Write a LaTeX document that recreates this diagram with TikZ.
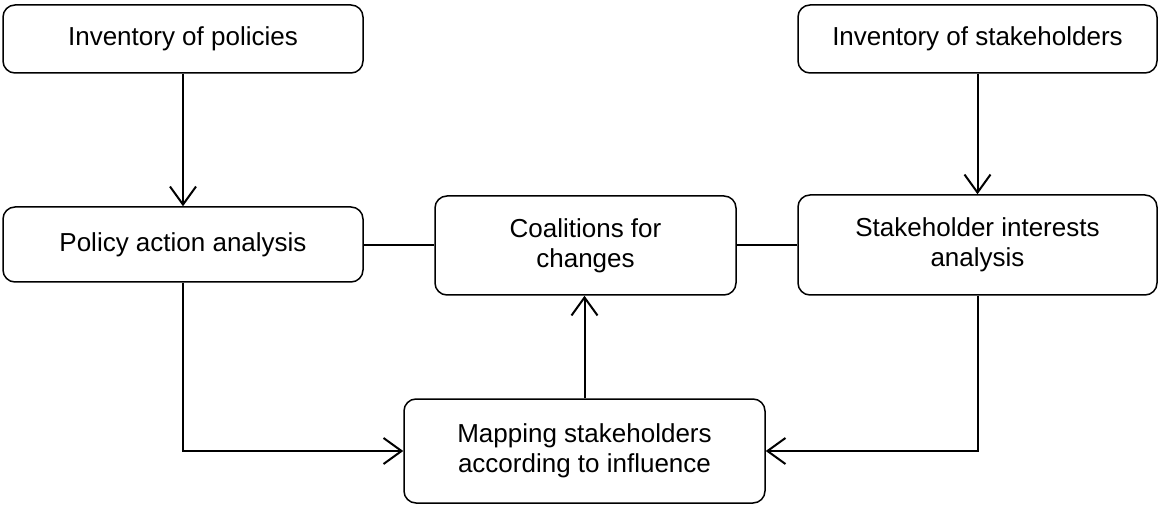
\documentclass[tikz,border=0pt]{standalone}
\usepackage{fontspec}
\setmainfont{Liberation Sans}
\usetikzlibrary{arrows.meta}
\begin{document}
\begin{tikzpicture}[x=1pt,y=-1pt,
  box/.style={draw, line width=1.5pt, rounded corners=12pt, inner sep=0pt, align=center,
    font=\fontsize{26}{30}\selectfont},
  conn/.style={line width=2pt},
  arr/.style={conn, -{Straight Barb[length=18pt,width=26pt,line width=2pt]}}]
\useasboundingbox (0,0) rectangle (1160,505);
\node[box, minimum width=360pt, minimum height=68pt] (ip) at (183,39) {Inventory of policies};
\node[box, minimum width=359pt, minimum height=68pt] (is) at (977.5,39) {Inventory of stakeholders};
\node[box, minimum width=360pt, minimum height=75pt] (pa) at (183,244.5) {Policy action analysis};
\node[box, minimum width=359pt, minimum height=100pt] (sa) at (977.5,245) {Stakeholder interests\\analysis};
\node[box, minimum width=301pt, minimum height=99pt] (co) at (585.5,245.5) {Coalitions for\\changes};
\node[box, minimum width=361pt, minimum height=104pt] (ma) at (584.5,451) {Mapping stakeholders\\according to influence};
\draw[arr] (ip.south) -- (pa.north);
\draw[arr] (is.south) -- (sa.north);
\draw[arr] (pa.south) |- (ma.west);
\draw[arr] (sa.south) |- (ma.east);
\draw[arr] (ma.north) -- (ma.north |- co.south);
\draw[conn] (pa.east |- co.west) -- (co.west);
\draw[conn] (co.east) -- (sa.west |- co.east);
\end{tikzpicture}
\end{document}
